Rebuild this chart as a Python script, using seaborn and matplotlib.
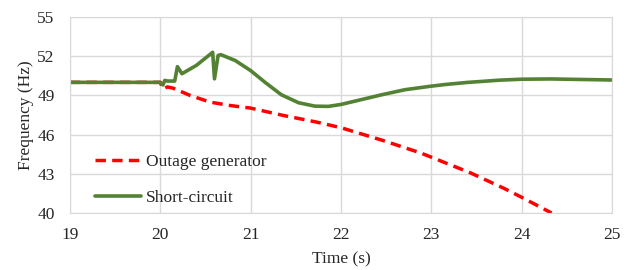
import seaborn as sns
import matplotlib.pyplot as plt
import pandas as pd

# frequency response
outage_t = [19, 20.0, 20.03, 20.08, 20.14, 20.33, 20.55, 20.77, 21.0, 21.36, 21.73, 22.0,
            22.46, 22.88, 23.0, 23.43, 23.8, 24.0, 24.33]
outage_f = [50, 50, 49.5, 49.65, 49.56, 49.0, 48.49, 48.23, 48.03, 47.47, 46.96, 46.53,
            45.56, 44.6, 44.27, 43.08, 41.9, 41.2, 40.0]

short_t = [19, 20.0, 20.03, 20.05, 20.08, 20.16, 20.19, 20.24, 20.4, 20.58, 20.6, 20.64,
           20.67, 20.83, 21.0, 21.16, 21.34, 21.53, 21.71, 21.86, 22.0, 22.19, 22.45,
           22.71, 23.0, 23.16, 23.39, 23.76, 24.0, 24.32, 25.0]
short_f = [50, 50, 49.8, 50.15, 50.1, 50.1, 51.2, 50.66, 51.3, 52.3, 50.27, 52.06,
           52.12, 51.67, 50.9, 50.0, 49.05, 48.44, 48.18, 48.16, 48.31, 48.62, 49.05,
           49.44, 49.71, 49.84, 49.99, 50.17, 50.24, 50.26, 50.18]

x_ticks = [19, 20, 21, 22, 23, 24, 25]
y_ticks = [40, 43, 46, 49, 52, 55]

df_out = pd.DataFrame({'t': outage_t, 'f': outage_f})
df_sc = pd.DataFrame({'t': short_t, 'f': short_f})

sns.set_style("white")
plt.rcParams['font.family'] = ['Liberation Serif', 'DejaVu Serif']

fig = plt.figure(figsize=(6.41, 2.7), dpi=100)
ax = fig.add_axes([0.109, 0.211, 0.846, 0.726])

sns.lineplot(data=df_out, x='t', y='f', ax=ax, color='#ff0000', linewidth=2.5,
             estimator=None, label='Outage generator')
ax.lines[-1].set_linestyle((0, (3, 1.8)))
sns.lineplot(data=df_sc, x='t', y='f', ax=ax, color='#548235', linewidth=2.6,
             estimator=None, label='Short-circuit')
for ln in ax.lines:
    ln.set_solid_joinstyle('round')
    ln.set_dash_joinstyle('round')

ax.set_xlim(19, 25)
ax.set_ylim(40, 55)
ax.set_xticks(x_ticks)
ax.set_yticks(y_ticks)
ax.grid(True, color='#d9d9d9', linewidth=1)
for s in ax.spines.values():
    s.set_color('#d9d9d9')
ax.tick_params(length=0, labelsize=12.5)
ax.tick_params(axis='x', pad=10)
ax.tick_params(axis='y', pad=11)
ax.set_xlabel('Time (s)', fontsize=12.5, labelpad=6)
ax.set_ylabel('Frequency (Hz)', fontsize=12.5, labelpad=2)

ax.legend(loc='lower left', bbox_to_anchor=(0.046, 0.038), frameon=False, fontsize=12.5,
          handlelength=2.65, labelspacing=1.1, handletextpad=0.3, borderpad=0,
          borderaxespad=0)

fig.savefig('out.png', dpi=100)
